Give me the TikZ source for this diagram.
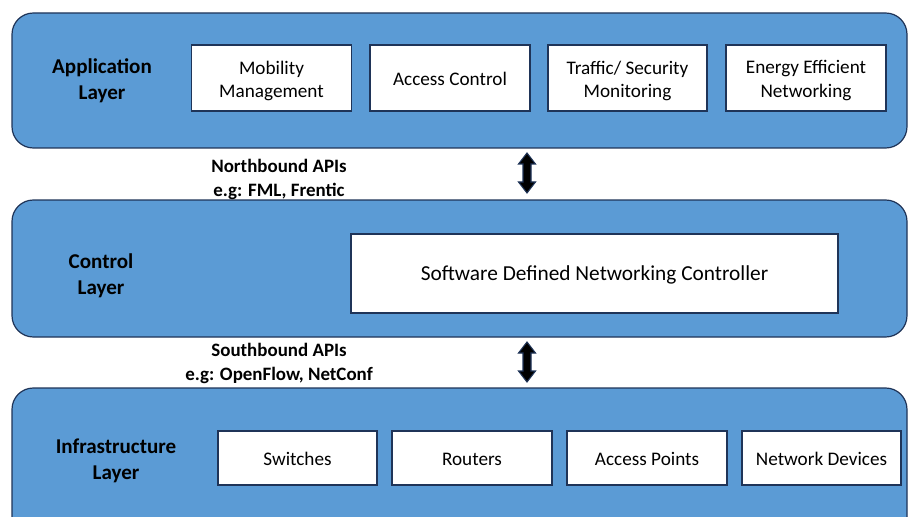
\documentclass[tikz,border=0pt]{standalone}
\usepackage{fontspec}
\setmainfont{Carlito}
\usetikzlibrary{arrows.meta,calc}
\definecolor{layerblue}{HTML}{5B9BD5}
\definecolor{edgeblue}{HTML}{1F3458}
\tikzset{
  layer/.style={fill=layerblue, draw=edgeblue, line width=0.9pt, rounded corners=16pt},
  itembox/.style={draw=edgeblue, fill=white, line width=1.2pt, inner sep=0pt},
  itemtext/.style={font=\fontsize{14.4}{17.5}\selectfont, align=center, inner sep=0pt, yshift=-2pt},
  onetext/.style={font=\fontsize{14.4}{17.5}\selectfont, inner sep=0pt, text height=0.64em, text depth=0pt, yshift=-2.2pt},
  bigtext/.style={font=\fontsize{16}{19}\selectfont, inner sep=0pt, text height=0.64em, text depth=0pt, yshift=-2.2pt},
  layerlabel/.style={font=\bfseries\fontsize{15.8}{19.5}\selectfont, align=center},
  apilabel/.style={font=\bfseries\fontsize{14.2}{17.5}\selectfont, align=center},
  blockarrow/.style={fill=black, draw=edgeblue, line width=0.8pt, line join=miter}
}
\newcommand{\dblarrow}[2]{%
  \filldraw[blockarrow] (#1) -- ++(-8.5,11) -- ++(4.5,0) |- ($(#2)+(-4,-11)$) -- ++(-4.5,0) -- (#2)
    -- ++(8.5,-11) -- ++(-4.5,0) |- ($(#1)+(4,11)$) -- ++(4.5,0) -- cycle;}
\begin{document}
\begin{tikzpicture}[x=0.75pt,y=-0.75pt]
\useasboundingbox (0,0) rectangle (908,517);
\clip (0,0) rectangle (908,517);
% layers
\draw[layer] (12,13) rectangle (907,148);
\draw[layer] (12,200) rectangle (907,337);
\draw[layer] (12,388) rectangle (907,560);
% application layer
\node[layerlabel] (app) at (102,81) {Application\\Layer};
\node[itembox, minimum width=120pt, minimum height=49.5pt, label={[itemtext]center:Mobility\\Management}] (mob) at (271.5,78) {};
\node[itembox, minimum width=120pt, minimum height=49.5pt, label={[onetext]center:Access Control}] (acc) at (450,78) {};
\node[itembox, minimum width=119pt, minimum height=49.5pt, label={[itemtext]center:Traffic/ Security\\Monitoring}] (traf) at (627.5,78) {};
\node[itembox, minimum width=120pt, minimum height=49.5pt, label={[itemtext]center:Energy Efficient\\Networking}] (energy) at (806,78) {};
% control layer
\node[layerlabel] (ctl) at (101,276) {Control\\Layer};
\node[itembox, minimum width=365pt, minimum height=59pt, label={[bigtext]center:Software Defined Networking Controller}] (sdn) at (594.5,273.5) {};
% infrastructure layer
\node[layerlabel] (inf) at (116,460.5) {Infrastructure\\Layer};
\node[itembox, minimum width=119pt, minimum height=40.5pt, label={[onetext]center:Switches}] (sw) at (297.5,458) {};
\node[itembox, minimum width=120pt, minimum height=40.5pt, label={[onetext]center:Routers}] (rt) at (472,458) {};
\node[itembox, minimum width=120pt, minimum height=40.5pt, label={[onetext]center:Access Points}] (ap) at (647,458) {};
\node[itembox, minimum width=119pt, minimum height=40.5pt, label={[onetext]center:Network Devices}] (nd) at (821.5,458) {};
% API labels
\node[apilabel] (nb) at (279,179.5) {Northbound APIs\\e.g: FML, Frentic};
\node[apilabel] (sb) at (279,363.5) {Southbound APIs\\e.g: OpenFlow, NetConf};
% arrows
\coordinate (a1t) at (527,153);
\coordinate (a1b) at (527,193);
\coordinate (a2t) at (527,342);
\coordinate (a2b) at (527,382);
\dblarrow{a1t}{a1b}
\dblarrow{a2t}{a2b}
\end{tikzpicture}
\end{document}
